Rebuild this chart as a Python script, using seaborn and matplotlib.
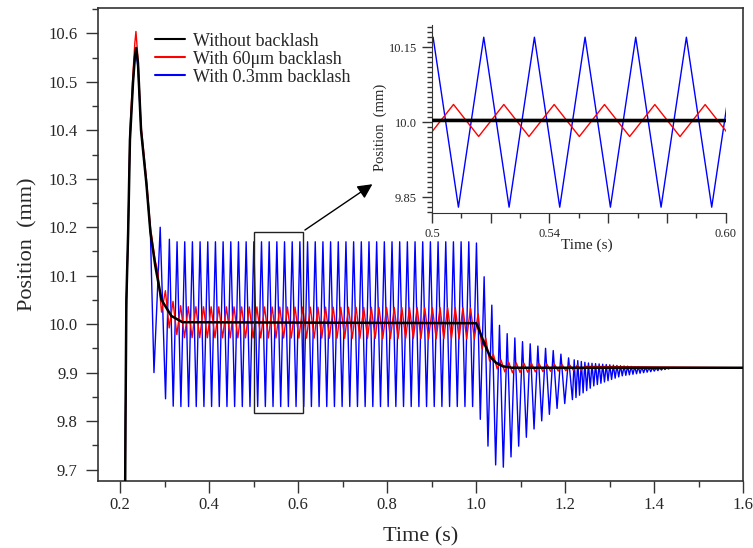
import numpy as np
import matplotlib
matplotlib.use("Agg")
import matplotlib.pyplot as plt
import matplotlib.patches as mpatches
from matplotlib.ticker import MultipleLocator, FixedLocator, FixedFormatter, FormatStrFormatter
import seaborn as sns

# ---- values (time in s, position in mm) ----
# without backlash: step response keypoints
black_t = [0.2100, 0.2120, 0.2140, 0.2180, 0.2220, 0.2290, 0.2330, 0.2360, 0.2400,
           0.2470, 0.2590, 0.2680, 0.2790, 0.2930, 0.3150, 0.3400, 1.0000, 1.0080,
           1.0160, 1.0240, 1.0320, 1.0450, 1.0600, 1.0800, 1.6000]
black_y = [9.40, 9.80, 10.05, 10.19, 10.38, 10.50, 10.55, 10.57, 10.54,
           10.40, 10.29, 10.19, 10.12, 10.05, 10.017, 10.004, 10.002, 9.985,
           9.965, 9.948, 9.932, 9.920, 9.913, 9.910, 9.910]

# with 60um backlash: transient, then limit cycle around the black curve
red_t = [0.2100, 0.2120, 0.2140, 0.2180, 0.2220, 0.2290, 0.2330, 0.2355, 0.2400,
         0.2470, 0.2590, 0.2680, 0.2790]
red_y = [9.40, 9.78, 10.03, 10.19, 10.40, 10.52, 10.58, 10.604, 10.55,
         10.41, 10.30, 10.20, 10.13]
red_first_peak = 0.2845
red_period = 0.01714
red_env_t = [0.280, 0.300, 1.000, 1.030, 1.240, 1.250]
red_amp = [0.012, 0.032, 0.032, 0.012, 0.005, 0.0]

# with 0.3mm backlash: transient, then extrema of the limit cycle
blue_t = [0.2100, 0.2120, 0.2140, 0.2180, 0.2220, 0.2290, 0.2330, 0.2350, 0.2400,
          0.2470, 0.2590, 0.2680, 0.2760, 0.2900]
blue_y = [9.40, 9.80, 10.05, 10.19, 10.38, 10.50, 10.55, 10.565, 10.53,
          10.40, 10.29, 10.19, 9.90, 10.20]
blue_first_trough = 0.302
blue_period = [0.01725, 0.0080]   # before / after the switch time
blue_period_switch = 1.21
blue_up_t = [0.302, 0.32, 1.0, 1.014, 1.028, 1.05, 1.07, 1.10, 1.138, 1.175,
             1.213, 1.25, 1.326, 1.40, 1.45]
blue_up = [10.18, 10.17, 10.17, 10.113, 10.058, 10.0, 9.98, 9.965, 9.955, 9.945,
           9.928, 9.92, 9.914, 9.91, 9.91]
blue_lo_t = [0.302, 0.32, 1.0, 1.014, 1.032, 1.048, 1.066, 1.085, 1.116, 1.152,
             1.19, 1.22, 1.265, 1.326, 1.40, 1.45]
blue_lo = [9.846, 9.83, 9.83, 9.79, 9.73, 9.702, 9.706, 9.737, 9.77, 9.805,
           9.832, 9.846, 9.873, 9.893, 9.903, 9.91]
end_t, end_y = 1.6, 9.91

labels = ["Without backlash", "With 60\u03bcm backlash", "With 0.3mm backlash"]

# ---- build the series ----
rt, ry = list(red_t), list(red_y)
t, k = red_first_peak, 0
while t < red_env_t[-1]:
    sign = 1 if k % 2 == 0 else -1
    rt.append(t)
    ry.append(np.interp(t, black_t, black_y) + sign * np.interp(t, red_env_t, red_amp))
    t += red_period / 2
    k += 1
rt.append(end_t); ry.append(end_y)

bt, by = list(blue_t), list(blue_y)
t, k = blue_first_trough, 0
while t < blue_up_t[-1]:
    env = (blue_lo_t, blue_lo) if k % 2 == 0 else (blue_up_t, blue_up)
    bt.append(t)
    by.append(np.interp(t, *env))
    t += (blue_period[0] if t < blue_period_switch else blue_period[1]) / 2
    k += 1
bt.append(end_t); by.append(end_y)

sns.set_style("ticks")
plt.rcParams['font.family'] = ['Liberation Serif', 'DejaVu Serif']

fig = plt.figure(figsize=(7.53, 5.48), dpi=100)
ax = fig.add_axes([0.130, 0.122, 0.857, 0.863])

def draw(a, lw_black):
    sns.lineplot(x=bt, y=by, ax=a, color="#0000ff", linewidth=1.0, sort=False,
                 estimator=None, zorder=1, legend=False)
    sns.lineplot(x=rt, y=ry, ax=a, color="#ff0000", linewidth=1.0, sort=False,
                 estimator=None, zorder=2, legend=False)
    sns.lineplot(x=black_t, y=black_y, ax=a, color="black", linewidth=lw_black,
                 sort=False, estimator=None, zorder=3, legend=False)

draw(ax, 1.8)
ax.set_xlim(0.15, 1.6)
ax.set_ylim(9.676, 10.652)
ax.xaxis.set_major_locator(MultipleLocator(0.2))
ax.xaxis.set_minor_locator(MultipleLocator(0.1))
ax.yaxis.set_major_locator(MultipleLocator(0.1))
ax.yaxis.set_minor_locator(MultipleLocator(0.05))
ax.xaxis.set_major_formatter(FormatStrFormatter('%.1f'))
ax.yaxis.set_major_formatter(FormatStrFormatter('%.1f'))
ax.tick_params(which='major', direction='out', length=8.5, width=1, labelsize=12, color='#333333')
ax.tick_params(which='minor', direction='out', length=4, width=1, color='#333333')
ax.tick_params(axis='x', which='major', pad=3)
ax.tick_params(axis='y', which='major', pad=6)
for s in ax.spines.values():
    s.set_linewidth(1.2)
    s.set_color('#333333')
ax.set_xlabel("Time (s)", fontsize=16)
ax.set_ylabel("Position  (mm)", fontsize=16)
ax.xaxis.set_label_coords(0.5, -0.098)
ax.yaxis.set_label_coords(-0.093, 0.5)

handles = [plt.Line2D([], [], color=c, lw=1.5) for c in ["black", "#ff0000", "#0000ff"]]
ax.legend(handles, labels, loc='upper left', bbox_to_anchor=(0.088, 0.948),
          frameon=False, fontsize=13, handlelength=1.67, handletextpad=0.45,
          labelspacing=0.05, borderpad=0, borderaxespad=0)

# zoom box and arrow
ax.add_patch(mpatches.Rectangle((0.5, 9.817), 0.11, 0.374, fill=False,
                                edgecolor='#222222', lw=1, zorder=5))
ax.annotate('', xy=(0.772, 10.292), xytext=(0.61, 10.191),
            arrowprops=dict(arrowstyle='-|>', color='black', lw=1, mutation_scale=22))

# inset
ins = fig.add_axes([0.5737, 0.611, 0.390, 0.343])
draw(ins, 2.6)
ins.set_xlim(0.5, 0.6)
ins.set_ylim(9.818, 10.194)
ins.patch.set_alpha(0)
ins.spines['top'].set_visible(False)
ins.spines['right'].set_visible(False)
ins.xaxis.set_major_locator(FixedLocator([0.5, 0.52, 0.54, 0.56, 0.58, 0.60]))
ins.xaxis.set_major_formatter(FixedFormatter(['0.5', '', '0.54', '', '', '0.60']))
ins.xaxis.set_minor_locator(MultipleLocator(0.01))
ins.yaxis.set_major_locator(FixedLocator([9.85, 10.0, 10.15]))
ins.yaxis.set_major_formatter(FixedFormatter(['9.85', '10.0', '10.15']))
ins.yaxis.set_minor_locator(MultipleLocator(0.01))
ins.tick_params(which='major', direction='out', length=7.5, width=1, labelsize=9, color='#333333')
ins.tick_params(which='minor', direction='out', length=3.5, width=1, color='#333333')
for s in ins.spines.values():
    s.set_color('#333333')
ins.set_xlabel("Time (s)", fontsize=11)
ins.set_ylabel("Position  (mm)", fontsize=10.5)
ins.xaxis.set_label_coords(0.527, -0.133)
ins.yaxis.set_label_coords(-0.153, 0.457)

fig.savefig("out.png", dpi=100)
